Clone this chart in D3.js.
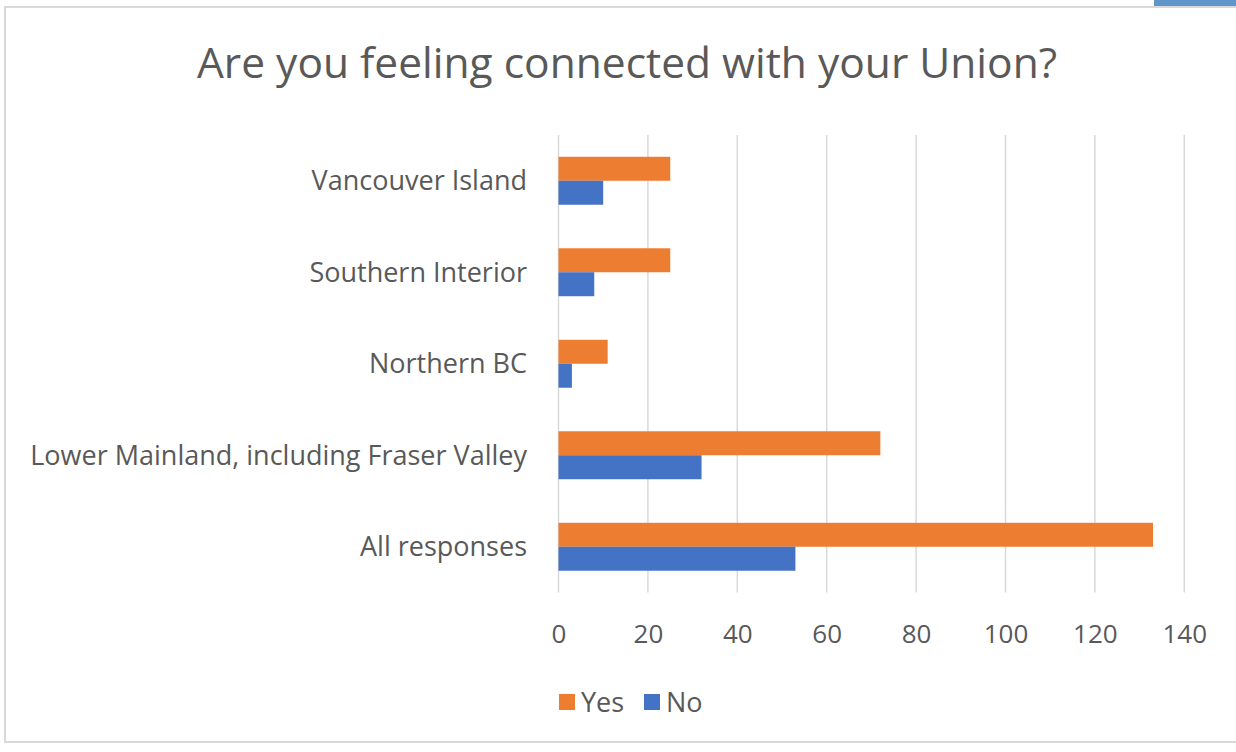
<!DOCTYPE html>
<html>
<head>
<meta charset="utf-8">
<script src="https://cdn.jsdelivr.net/npm/d3@7"></script>
<style>
  html, body { margin: 0; padding: 0; background: #ffffff; }
  svg { display: block; }
  text { font-family: "Open Sans", "Noto Sans", sans-serif; fill: #595959; }
</style>
</head>
<body>
<svg id="chart" width="1236" height="752"></svg>
<script>
// Survey responses by region
const categories = [
  "Vancouver Island",
  "Southern Interior",
  "Northern BC",
  "Lower Mainland, including Fraser Valley",
  "All responses"
];
const seriesNames = ["Yes", "No"];
const yesValues = [25, 25, 11, 72, 133];
const noValues = [10, 8, 3, 32, 53];
const tickValues = [0, 20, 40, 60, 80, 100, 120, 140];
const titleText = "Are you feeling connected with your Union?";

const colors = { Yes: "#ED7D31", No: "#4472C4" };

const rows = categories.map((c, i) => ({ category: c, Yes: yesValues[i], No: noValues[i] }));

const svg = d3.select("#chart");

// chart frame and selection tab
svg.append("rect")
  .attr("x", 5).attr("y", 7)
  .attr("width", 1260).attr("height", 735)
  .attr("fill", "#ffffff")
  .attr("stroke", "#d9d9d9")
  .attr("stroke-width", 2);
svg.append("rect")
  .attr("x", 1154).attr("y", 0)
  .attr("width", 82).attr("height", 6)
  .attr("fill", "#5F95C8");

// scales
const x = d3.scaleLinear().domain([0, 140]).range([558.5, 1184.3]);
const y0 = d3.scaleBand().domain(categories).range([135, 592.5])
  .paddingInner(0.476).paddingOuter(0.238);
const y1 = d3.scaleBand().domain(seriesNames).range([0, y0.bandwidth()]);

// title
svg.append("text")
  .attr("x", 627).attr("y", 78)
  .attr("text-anchor", "middle")
  .style("font-size", "42.5px")
  .text(titleText);

// vertical gridlines
svg.append("g")
  .selectAll("line")
  .data(tickValues)
  .join("line")
  .attr("x1", d => x(d)).attr("x2", d => x(d))
  .attr("y1", 135).attr("y2", 592.5)
  .attr("stroke", "#d9d9d9")
  .attr("stroke-width", 1.5);

// bars
const groups = svg.append("g")
  .selectAll("g")
  .data(rows)
  .join("g")
  .attr("transform", d => `translate(0,${y0(d.category)})`);

groups.selectAll("rect")
  .data(d => seriesNames.map(s => ({ key: s, value: d[s] })))
  .join("rect")
  .attr("x", x(0))
  .attr("y", d => y1(d.key))
  .attr("width", d => x(d.value) - x(0))
  .attr("height", y1.bandwidth())
  .attr("fill", d => colors[d.key]);

// category axis
const yAxis = d3.axisLeft(y0).tickSize(0).tickPadding(0);
const yAxisG = svg.append("g")
  .attr("transform", "translate(527,0)")
  .call(yAxis);
yAxisG.select(".domain").remove();
yAxisG.selectAll("text")
  .attr("dy", "0.35em")
  .style("font-size", "27px")
  .style("fill", "#595959");

// value axis
const xAxis = d3.axisBottom(x).tickValues(tickValues).tickSize(0).tickPadding(0);
const xAxisG = svg.append("g")
  .attr("transform", "translate(0,643)")
  .call(xAxis);
xAxisG.select(".domain").remove();
xAxisG.selectAll("text")
  .attr("dy", "0")
  .attr("y", 0)
  .style("font-size", "26px")
  .style("fill", "#595959");

// legend
const legend = svg.append("g").attr("transform", "translate(559,0)");
const legendItems = legend.selectAll("g")
  .data(seriesNames)
  .join("g")
  .attr("transform", (d, i) => `translate(${i * 85},0)`);
legendItems.append("rect")
  .attr("x", 0).attr("y", 694)
  .attr("width", 16).attr("height", 16)
  .attr("fill", d => colors[d]);
legendItems.append("text")
  .attr("x", 22).attr("y", 712)
  .style("font-size", "27px")
  .text(d => d);
</script>
</body>
</html>
